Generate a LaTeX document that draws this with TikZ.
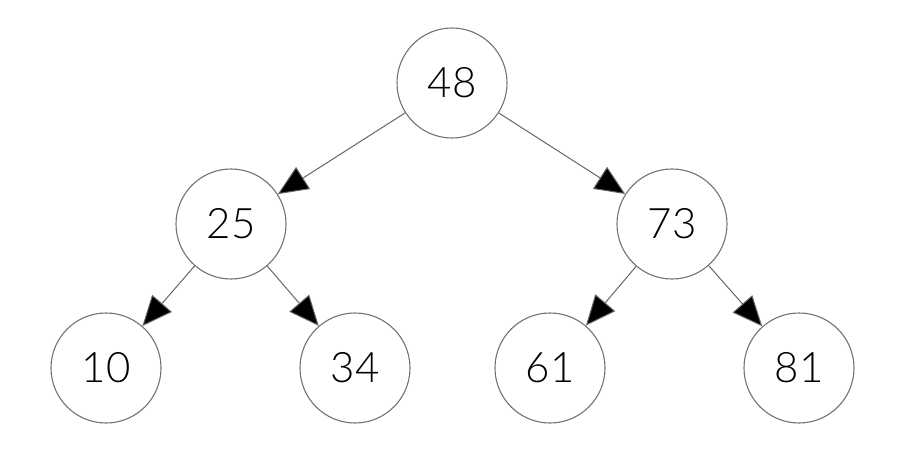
\documentclass[tikz,border=0pt]{standalone}
\usepackage{fontspec}
\setmainfont{Lato Light}
\usetikzlibrary{arrows.meta}
\begin{document}
\begin{tikzpicture}[x=1pt,y=-1pt,
  tnode/.style={circle,draw=black!55,line width=1.1pt,minimum size=110pt,inner sep=0pt,font=\fontsize{42}{42}\selectfont},
  edge/.style={draw=black!60,line width=1pt,-{Triangle[length=30pt,width=26pt,fill=black]}}]
\useasboundingbox (0,0) rectangle (918,465);
\node[tnode] (n48) at (452,83) {48};
\node[tnode] (n25) at (231,224) {25};
\node[tnode] (n73) at (672,224) {73};
\node[tnode] (n10) at (106,368) {10};
\node[tnode] (n34) at (355,368) {34};
\node[tnode] (n61) at (550,368) {61};
\node[tnode] (n81) at (799,368) {81};
\draw[edge] (n48) -- (n25);
\draw[edge] (n48) -- (n73);
\draw[edge] (n25) -- (n10);
\draw[edge] (n25) -- (n34);
\draw[edge] (n73) -- (n61);
\draw[edge] (n73) -- (n81);
\end{tikzpicture}
\end{document}
